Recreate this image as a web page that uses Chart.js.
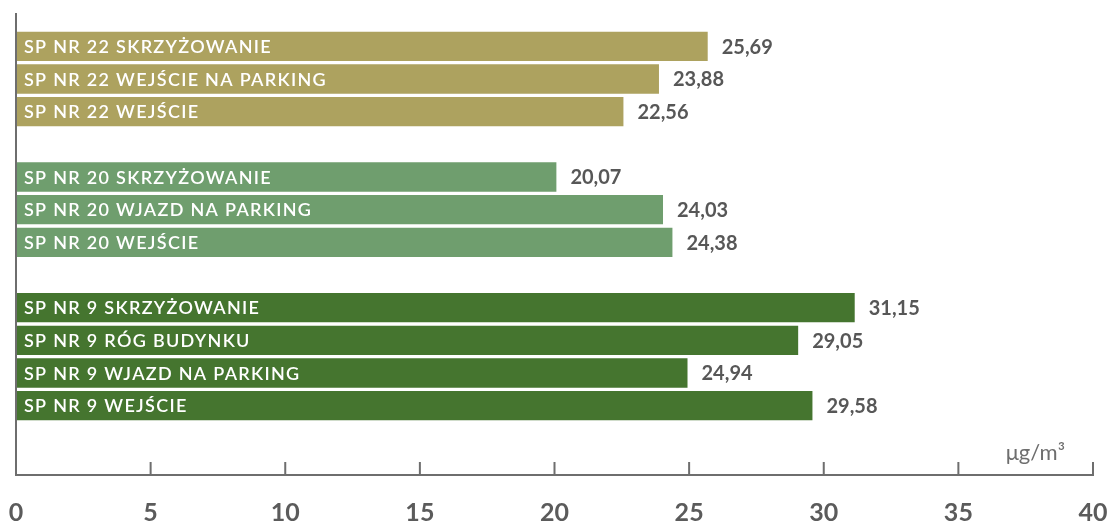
<!DOCTYPE html>
<html><head><meta charset="utf-8">
<script src="https://cdn.jsdelivr.net/npm/chart.js@4"></script>
<style>html,body{margin:0;padding:0;background:#fff}#wrap{width:1111px;height:522px}</style>
</head><body><div id="wrap"><canvas id="c" width="1111" height="522"></canvas></div>
<script>
const categories = ['SP NR 22 SKRZYŻOWANIE','SP NR 22 WEJŚCIE NA PARKING','SP NR 22 WEJŚCIE','',
  'SP NR 20 SKRZYŻOWANIE','SP NR 20 WJAZD NA PARKING','SP NR 20 WEJŚCIE','',
  'SP NR 9 SKRZYŻOWANIE','SP NR 9 RÓG BUDYNKU','SP NR 9 WJAZD NA PARKING','SP NR 9 WEJŚCIE'];
const values = [25.69,23.88,22.56,null,20.07,24.03,24.38,null,31.15,29.05,24.94,29.58];
const groups = ['SP22','SP22','SP22',null,'SP20','SP20','SP20',null,'SP9','SP9','SP9','SP9'];
const groupColors = {SP22:'#ADA25F', SP20:'#6F9E6E', SP9:'#45752F'};
const xMin = 0, xMax = 40, xStep = 5;
const unitLabel = 'μg/m³';

const barColors = groups.map(g => g ? groupColors[g] : 'rgba(0,0,0,0)');

const labelPlugin = {
  id: 'labels',
  afterDatasetsDraw(chart) {
    const ctx = chart.ctx, ca = chart.chartArea, xs = chart.scales.x;
    const x0 = xs.getPixelForValue(xMin), x1 = xs.getPixelForValue(xMax);
    const axisY = ca.bottom + 53, topY = ca.top - 17;
    ctx.save();
    ctx.strokeStyle = '#6e6e6e';
    ctx.lineWidth = 2;
    ctx.beginPath();
    ctx.moveTo(x0, topY); ctx.lineTo(x0, axisY);
    ctx.moveTo(x0 - 1, axisY); ctx.lineTo(x1 + 1, axisY);
    xs.ticks.forEach(t => {
      if (t.value === xMin) return;
      const px = xs.getPixelForValue(t.value);
      ctx.moveTo(px, axisY); ctx.lineTo(px, axisY - 13);
    });
    ctx.stroke();
    ctx.fillStyle = '#6e6e6e';
    ctx.font = '22px Lato';
    ctx.textAlign = 'right';
    ctx.textBaseline = 'middle';
    ctx.fillText(unitLabel, x1 - 28, axisY - 22);
    const meta = chart.getDatasetMeta(0);
    meta.data.forEach((bar, i) => {
      if (values[i] == null) return;
      ctx.textAlign = 'left';
      ctx.fillStyle = '#ffffff';
      ctx.font = '600 18px Lato';
      ctx.letterSpacing = '1.3px';
      ctx.fillText(categories[i], ca.left + 8, bar.y + 1);
      ctx.letterSpacing = '0px';
      ctx.fillStyle = '#575757';
      ctx.font = 'bold 20px Lato';
      ctx.fillText(values[i].toFixed(2).replace('.', ','), bar.x + 14, bar.y + 1);
    });
    ctx.restore();
  }
};

new Chart(document.getElementById('c'), {
  type: 'bar',
  data: {
    labels: categories,
    datasets: [{ data: values, backgroundColor: barColors, barPercentage: 0.9, categoryPercentage: 1 }]
  },
  options: {
    indexAxis: 'y',
    responsive: false,
    animation: false,
    layout: { padding: { left: 16, right: 18, top: 30, bottom: 0 } },
    plugins: { legend: { display: false }, tooltip: { enabled: false } },
    scales: {
      y: { type: 'category', display: false, offset: true, grid: { display: false } },
      x: {
        min: xMin, max: xMax, position: 'bottom',
        border: { display: false },
        grid: { display: false, drawTicks: false },
        afterFit(scale) { scale.height = 100; scale.paddingLeft = 0; scale.paddingRight = 0; },
        ticks: { stepSize: xStep, padding: 76, maxRotation: 0, minRotation: 0, autoSkip: false,
          color: '#5b5b5b', font: { family: 'Lato', size: 25, weight: 'bold' } }
      }
    }
  },
  plugins: [labelPlugin]
});
</script>
</body></html>
